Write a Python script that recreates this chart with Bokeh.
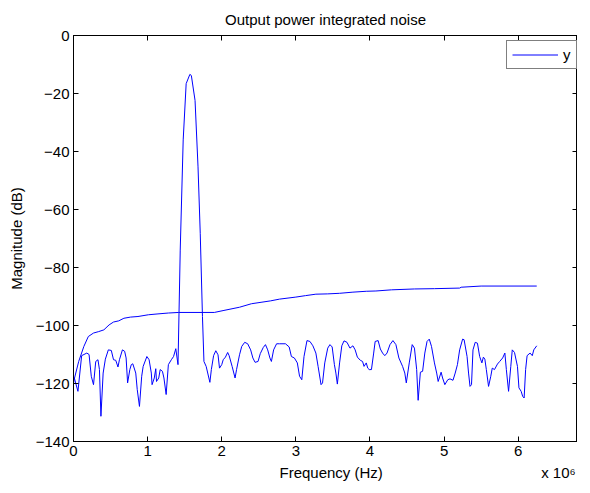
from bokeh.plotting import figure
from bokeh.models import (LinearAxis, FixedTicker, Legend, LegendItem, Range1d,
                          CustomJSTickFormatter)
from bokeh.embed import file_html
from bokeh.resources import INLINE

# ---- data (frequency in units of 1e6 Hz, magnitude in dB) ----
noise_freq = [0.01, 0.06, 0.11, 0.18, 0.21, 0.24, 0.27, 0.30, 0.33, 0.35, 0.37, 0.40, 0.43, 0.47,
              0.51, 0.54, 0.57, 0.60, 0.62, 0.66, 0.69, 0.71, 0.73, 0.76, 0.78, 0.80, 0.84, 0.86,
              0.89, 0.92, 0.94, 0.99, 1.02, 1.05, 1.06, 1.09, 1.11, 1.12, 1.15, 1.17, 1.20, 1.22,
              1.25, 1.28, 1.32, 1.35, 1.38, 1.41,
              1.44, 1.48, 1.52, 1.57, 1.59, 1.64, 1.68, 1.71, 1.74, 1.76,
              1.79, 1.84, 1.86, 1.89, 1.92, 1.95, 1.97, 2.00, 2.02, 2.05, 2.08, 2.10, 2.14, 2.18,
              2.20, 2.24, 2.27, 2.31, 2.35, 2.39, 2.42, 2.45, 2.49, 2.52, 2.56, 2.59, 2.62, 2.65,
              2.67, 2.70, 2.74, 2.78, 2.86, 2.91, 2.94, 2.98, 3.02, 3.05, 3.08, 3.11, 3.15, 3.19,
              3.23, 3.27, 3.30, 3.34, 3.36, 3.39, 3.43, 3.46, 3.49, 3.52, 3.54, 3.56, 3.59, 3.62,
              3.65, 3.69, 3.73, 3.77, 3.80, 3.83, 3.87, 3.90, 3.92, 3.95, 3.97, 3.99, 4.02, 4.05,
              4.07, 4.11, 4.14, 4.17, 4.20, 4.23, 4.27, 4.31, 4.35, 4.39, 4.44, 4.47, 4.49, 4.53,
              4.57, 4.60, 4.63, 4.65, 4.68, 4.71, 4.74, 4.77, 4.80, 4.83, 4.87, 4.90, 4.92, 4.96,
              4.98, 5.01, 5.05, 5.08, 5.12, 5.15, 5.18, 5.21, 5.25, 5.27, 5.31, 5.33, 5.35, 5.37,
              5.39, 5.42, 5.45, 5.48, 5.51, 5.53, 5.55, 5.57, 5.60, 5.63, 5.65, 5.68, 5.72, 5.75,
              5.79, 5.82, 5.84, 5.87, 5.90, 5.92, 5.95, 5.99, 6.01, 6.04, 6.06, 6.08, 6.10, 6.12,
              6.16, 6.19, 6.21, 6.25]
noise_db = [-118.0, -122.7, -110.4, -109.5, -110.0, -117.5, -120.4, -112.4, -111.8, -115.2, -131.3,
            -116.4, -111.6, -108.4, -108.6, -111.8, -112.0, -114.3, -111.8, -108.4, -108.9, -111.2,
            -119.8, -115.2, -113.5, -113.2, -116.4, -122.1, -127.9, -117.5, -114.1, -110.7, -111.8,
            -116.4, -120.4, -118.1, -114.9, -119.3, -118.1, -115.2, -115.8, -118.1, -123.8, -113.5,
            -111.8, -110.7, -108.0, -113.5,
            -74.0, -36.0, -16.6, -13.4, -13.8, -22.4, -45.3, -68.2, -96.9, -112.4,
            -114.1, -119.6, -115.2, -110.4, -108.7, -110.1, -114.7, -113.5, -111.8, -110.9, -109.3,
            -110.4, -114.1, -118.1, -115.2, -110.1, -107.2, -105.8, -106.3, -108.4, -111.2, -112.7,
            -112.4, -109.7, -107.6, -106.6, -108.4, -111.2, -112.4, -108.4, -106.3, -106.3, -106.3,
            -107.4, -110.7, -111.2, -112.9, -117.5, -118.7, -110.7, -105.2, -105.5, -107.0, -109.5,
            -114.1, -120.4, -119.8, -112.9, -107.8, -106.6, -107.4, -113.5, -116.4, -120.2, -112.9,
            -107.0, -105.3, -105.8, -107.8, -107.0, -108.4, -110.9, -112.0, -112.4, -114.1, -112.9,
            -114.7, -115.2, -115.2, -109.5, -105.5, -105.2, -108.1, -109.5, -110.4, -109.5, -106.6,
            -105.2, -106.6, -111.2, -114.1, -116.4, -119.8, -112.9, -106.6, -107.8, -115.2, -125.8,
            -116.1, -115.8, -109.5, -105.5, -104.7, -107.2, -112.9, -116.4, -119.3, -116.1, -118.1,
            -120.4, -118.7, -118.4, -118.9, -116.4, -113.5, -108.4, -104.7, -104.9, -110.7, -116.4,
            -121.0, -120.4, -108.4, -105.8, -106.1, -110.7, -112.9, -110.9, -111.6, -115.2, -121.0,
            -117.5, -114.7, -115.2, -113.3, -112.4, -111.2, -109.5, -115.2, -122.7, -114.1, -108.4,
            -109.3, -114.1, -121.5, -122.7, -124.4, -125.0, -115.2, -110.4, -109.5, -110.4, -108.4,
            -107.0]

integ_freq = [0.0, 0.01, 0.07, 0.14, 0.20, 0.27, 0.34, 0.41, 0.48, 0.54, 0.61, 0.68, 0.77, 0.87,
              1.01, 1.14, 1.28, 1.42, 1.90, 2.03, 2.24, 2.40, 2.53, 2.66, 2.78, 3.00, 3.13, 3.27,
              3.43, 3.59, 3.77, 3.95, 4.08, 4.29, 4.60, 4.87, 5.21, 5.23, 5.50, 6.25]
integ_db = [-120.0, -118.5, -112.4, -107.2, -103.8, -102.6, -102.1, -101.5, -99.8, -98.8, -98.4,
            -97.5, -97.1, -96.9, -96.3, -96.0, -95.7, -95.5, -95.5, -94.8, -93.7, -92.5, -92.0,
            -91.5, -90.9, -90.2, -89.7, -89.2, -89.1, -88.9, -88.5, -88.2, -88.1, -87.7, -87.4,
            -87.3, -87.1, -86.8, -86.4, -86.4]

x_ticks = [0, 1, 2, 3, 4, 5, 6, 7]
y_ticks = [-140, -120, -100, -80, -60, -40, -20, 0]

title_text = "Output power integrated noise"
x_label = "Frequency (Hz)"
x_multiplier = "x 10\u2076"
y_label = "Magnitude (dB)"
legend_label = "y"

FONT = "Liberation Sans"
BLUE = "#0000ff"
NBSP = "\u00a0"

p = figure(width=577, height=484, output_backend="svg", toolbar_location=None,
           x_range=Range1d(0, 6.80), y_range=Range1d(-140, 0),
           min_border_left=73, min_border_right=0, min_border_top=34, min_border_bottom=43,
           title=title_text)
p.background_fill_color = "white"
p.border_fill_color = "white"
p.outline_line_color = "black"
p.outline_line_width = 1
p.xgrid.visible = False
p.ygrid.visible = False

p.title.text_font = FONT
p.title.text_font_size = "15px"
p.title.text_font_style = "normal"
p.title.align = "center"
p.title.text_color = "black"
p.title.standoff = 16


def style_axis(ax, show_labels=True):
    ax.axis_line_color = "black"
    ax.major_tick_line_color = "black"
    ax.major_tick_in = 5
    ax.major_tick_out = 0
    ax.minor_tick_line_color = None
    ax.major_label_text_font = FONT
    ax.major_label_text_color = "black"
    ax.axis_label_text_font = FONT
    ax.axis_label_text_font_style = "normal"
    ax.axis_label_text_color = "black"
    ax.axis_label_text_font_size = "15px"
    if show_labels:
        ax.major_label_text_font_size = "15px"
        ax.major_label_standoff = 4
    else:
        ax.formatter = CustomJSTickFormatter(code="return ''")
        ax.major_label_text_font_size = "0px"
        ax.major_label_standoff = 0
        ax.axis_label_standoff = 0


xa = p.xaxis[0]
ya = p.yaxis[0]
xa.ticker = FixedTicker(ticks=x_ticks)
ya.ticker = FixedTicker(ticks=y_ticks)
style_axis(xa)
style_axis(ya)
# x label centred, with the axis multiplier pushed to the right end of the same line
xa.axis_label = NBSP * 49 + x_label + NBSP * 38 + x_multiplier
ya.axis_label = y_label
xa.axis_label_standoff = 5
ya.axis_label_standoff = 8

top = LinearAxis(ticker=FixedTicker(ticks=x_ticks))
style_axis(top, show_labels=False)
p.add_layout(top, "above")
right = LinearAxis(ticker=FixedTicker(ticks=y_ticks))
style_axis(right, show_labels=False)
p.add_layout(right, "right")

r_noise = p.line(noise_freq, noise_db, line_color=BLUE, line_width=1)
r_int = p.line(integ_freq, integ_db, line_color=BLUE, line_width=1)

legend = Legend(items=[LegendItem(label=legend_label, renderers=[r_noise])],
                location=(433, 372))
legend.border_line_color = "black"
legend.border_line_width = 1
legend.background_fill_color = "white"
legend.background_fill_alpha = 1
legend.padding = 5
legend.margin = 0
legend.glyph_width = 46
legend.glyph_height = 17
legend.label_standoff = 5
legend.label_height = 17
legend.label_width = 8
legend.label_text_font = FONT
legend.label_text_font_size = "15px"
legend.label_text_color = "black"
p.add_layout(legend)

open("out.html", "w").write(file_html(p, INLINE))
